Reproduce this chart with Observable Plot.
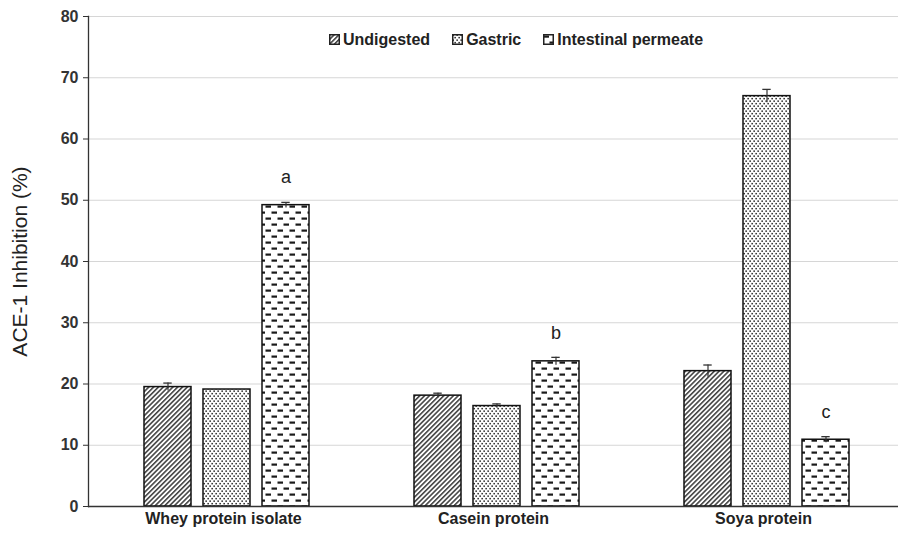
<!DOCTYPE html>
<html><head><meta charset="utf-8">
<script src="https://cdn.jsdelivr.net/npm/d3@7"></script>
<script src="https://cdn.jsdelivr.net/npm/@observablehq/plot@0.6"></script>
<style>
body{margin:0;background:#fff;font-family:"Liberation Sans",Arial,sans-serif;}
#chart{position:relative;width:907px;height:534px;}
#legend{position:absolute;left:329px;top:30px;display:flex;gap:22px;font-weight:bold;font-size:16px;color:#222;line-height:19px;}
#legend span{display:flex;align-items:center;gap:3px;}
#legend svg{display:block;}
</style></head><body>
<svg width="0" height="0" style="position:absolute">
<defs>
<pattern id="pat-diag" patternUnits="userSpaceOnUse" width="3.4" height="3.4" patternTransform="rotate(45)">
 <rect width="3.4" height="3.4" fill="#fff"/>
 <line x1="0.8" y1="-1" x2="0.8" y2="4.4" stroke="#2a2a2a" stroke-width="1.4"/>
</pattern>
<pattern id="pat-dots" patternUnits="userSpaceOnUse" width="4" height="5">
 <rect width="4" height="5" fill="#fff"/>
 <rect x="0.4" y="0.4" width="1.5" height="1.5" fill="#222"/>
 <rect x="2.4" y="2.9" width="1.5" height="1.5" fill="#222"/>
</pattern>
<pattern id="pat-dash" patternUnits="userSpaceOnUse" width="12" height="12">
 <rect width="12" height="12" fill="#fff"/>
 <rect x="0.5" y="1.5" width="5.5" height="2.2" fill="#1a1a1a"/>
 <rect x="6.5" y="7.5" width="5.5" height="2.2" fill="#1a1a1a"/>
</pattern>
</defs>
</svg>
<div id="chart">
 <div id="legend"></div>
</div>
<script>
const categories = ["Whey protein isolate", "Casein protein", "Soya protein"];
const series = ["Undigested", "Gastric", "Intestinal permeate"];
const undigested = [19.5, 18.1, 22.1];
const undigestedErr = [0.65, 0.4, 1.0];
const gastric = [19.1, 16.4, 67.0];
const gastricErr = [0, 0.35, 1.1];
const intestinal = [49.2, 23.7, 10.9];
const intestinalErr = [0.45, 0.65, 0.5];
const letters = ["a", "b", "c"];
const yTicks = [0, 10, 20, 30, 40, 50, 60, 70, 80];

const patterns = {"Undigested": "url(#pat-diag)", "Gastric": "url(#pat-dots)", "Intestinal permeate": "url(#pat-dash)"};

const values = [undigested, gastric, intestinal];
const errs = [undigestedErr, gastricErr, intestinalErr];
const rows = [];
categories.forEach((c, i) => {
  series.forEach((s, j) => {
    rows.push({category: c, series: s, value: values[j][i], err: errs[j][i], letter: j === 2 ? letters[i] : ""});
  });
});
const errRows = rows.filter(d => d.err > 0);
const letterRows = rows.filter(d => d.letter);

const barMarks = series.map(s => Plot.barY(rows.filter(d => d.series === s), {
  fx: "category", x: "series", y: "value", fill: patterns[s], stroke: "#111", strokeWidth: 1.5
}));

const plot = Plot.plot({
  width: 907, height: 534,
  marginTop: 16, marginBottom: 28, marginLeft: 87, marginRight: 9,
  style: {fontFamily: "'Liberation Sans', Arial, sans-serif", background: "#fff"},
  fx: {domain: categories, padding: 0},
  x: {domain: series, axis: null, paddingInner: 0.21, paddingOuter: 0.874, align: 0.53},
  y: {domain: [0, 80]},
  marks: [
    Plot.gridY(yTicks, {stroke: "#d6d6d6", strokeOpacity: 1, strokeWidth: 1.2}),
    ...barMarks,
    Plot.ruleX(errRows, {fx: "category", x: "series", y1: d => d.value - d.err, y2: d => d.value + d.err, stroke: "#333", strokeWidth: 1.2}),
    Plot.tickY(errRows, {fx: "category", x: "series", y: d => d.value + d.err, insetLeft: 19.3, insetRight: 19.3, stroke: "#333", strokeWidth: 1.3}),
    Plot.text(letterRows, {fx: "category", x: "series", y: "value", text: "letter", dy: -28, fontSize: 18, fill: "#222"}),
    Plot.ruleY([0], {stroke: "#333", strokeWidth: 1.5}),
    Plot.frame({anchor: "left", facetAnchor: "left", stroke: "#333", strokeWidth: 1.3}),
    Plot.axisY({ticks: yTicks, tickSize: 5, tickPadding: 5, fontSize: 16, fontWeight: "bold", color: "#333", label: null}),
    Plot.axisY({ticks: [], tickSize: 0, label: "ACE-1 Inhibition (%)", labelArrow: "none", labelAnchor: "center", labelOffset: 76, fontSize: 21, color: "#222"}),
    Plot.axisFx({anchor: "bottom", tickSize: 0, tickPadding: 6, fontSize: 16, fontWeight: "bold", color: "#222", label: null})
  ]
});
document.getElementById("chart").appendChild(plot);

const legend = document.getElementById("legend");
series.forEach(s => {
  const span = document.createElement("span");
  span.innerHTML = `<svg width="11" height="11"><rect x="0.75" y="0.75" width="9.5" height="9.5" fill="${patterns[s]}" stroke="#222" stroke-width="1.5"/></svg>`;
  span.appendChild(document.createTextNode(s));
  legend.appendChild(span);
});
</script>
</body></html>
